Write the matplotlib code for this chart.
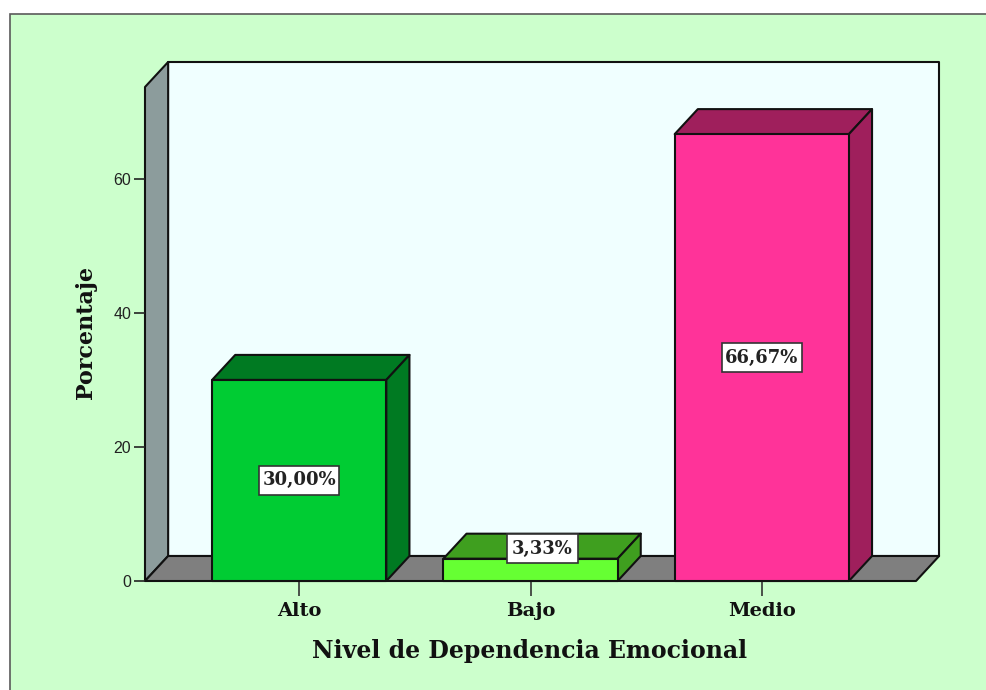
import matplotlib
matplotlib.use("Agg")
import matplotlib.pyplot as plt
from matplotlib.patches import Polygon, Rectangle

# Data
categorias = ["Alto", "Bajo", "Medio"]
porcentajes = [30.00, 3.33, 66.67]
etiquetas = ["30,00%", "3,33%", "66,67%"]
y_ticks = [0, 20, 40, 60]

colores_frente = ["#00CC33", "#66FF33", "#FF3399"]
colores_lado = ["#007A22", "#3F9F1F", "#9F1F5C"]

W, H = 987, 690
fig = plt.figure(figsize=(W / 100, H / 100), dpi=100, facecolor="white")

# green chart frame, runs off the right and bottom of the image
marco = Rectangle((9.5 / W, -0.1), 1.1, 1.1 - 14.5 / H, transform=fig.transFigure,
                  facecolor="#CCFFCC", edgecolor="#5a5a5a", linewidth=1.2, zorder=-1)
fig.add_artist(marco)

ax = fig.add_axes([145 / W, (H - 581) / H, 771 / W, 494 / H], zorder=2)
ax.set_xlim(-2 / 3, 8 / 3)
ax.set_ylim(0, 73.7)
ax.patch.set_visible(False)
for s in ax.spines.values():
    s.set_visible(False)

dx, dy = 0.1, 3.73      # 3D depth in data units
ancho = 174 / 231
x0, x1 = ax.get_xlim()
y1 = ax.get_ylim()[1]
lw = 1.5


def poly(pts, color, z=1):
    ax.add_patch(Polygon(pts, closed=True, facecolor=color, edgecolor="#111111",
                         linewidth=lw, joinstyle="round", clip_on=False, zorder=z))


# walls and floor
poly([(x0 + dx, dy), (x1 + dx, dy), (x1 + dx, y1 + dy), (x0 + dx, y1 + dy)], "#F0FFFF")
poly([(x0, 0), (x0 + dx, dy), (x0 + dx, y1 + dy), (x0, y1)], "#8C9C9C")
poly([(x0, 0), (x1, 0), (x1 + dx, dy), (x0 + dx, dy)], "#7F7F7F")

# bars
for i, v in enumerate(porcentajes):
    a, b = i - ancho / 2, i + ancho / 2
    poly([(a, v), (b, v), (b + dx, v + dy), (a + dx, v + dy)], colores_lado[i], 2)
    poly([(b, 0), (b + dx, dy), (b + dx, v + dy), (b, v)], colores_lado[i], 2)
    poly([(a, 0), (b, 0), (b, v), (a, v)], colores_frente[i], 3)

# value labels, the short bar gets its label on the 3D top face
for i, v in enumerate(porcentajes):
    grande = v > 10
    xpos = i if grande else i + dx / 2
    ypos = v / 2 if grande else v + 1.5
    caja_w = (80 if grande else 71) / 231
    caja_h = 29 * 73.7 / 494
    ax.add_patch(Rectangle((xpos - caja_w / 2, ypos - caja_h / 2), caja_w, caja_h, facecolor="white",
                           edgecolor="#333333", linewidth=1.2, clip_on=False, zorder=4))
    ax.text(xpos, ypos, etiquetas[i], ha="center", va="center", fontsize=13, fontweight="bold",
            family="DejaVu Serif", color="#222222", zorder=5)

ax.set_yticks(y_ticks)
ax.set_yticklabels([str(t) for t in y_ticks], family="Liberation Sans", fontsize=11.5, color="#222222")
ax.set_xticks(range(len(categorias)))
ax.set_xticklabels(categorias, family="DejaVu Serif", fontweight="bold", fontsize=14, color="#111111")
ax.tick_params(axis="y", length=8, width=1.2, pad=2, color="#222222")
ax.tick_params(axis="x", length=11, width=1.2, pad=4, color="#333333")

fig.text(530 / W, 1 - 651 / H, "Nivel de Dependencia Emocional", ha="center", va="center",
         family="DejaVu Serif", fontweight="bold", fontsize=17, color="#111111")
fig.text(86 / W, 1 - 332 / H, "Porcentaje", ha="center", va="center", rotation=90,
         family="DejaVu Serif", fontweight="bold", fontsize=16, color="#111111")

fig.savefig("out.png", dpi=100)
